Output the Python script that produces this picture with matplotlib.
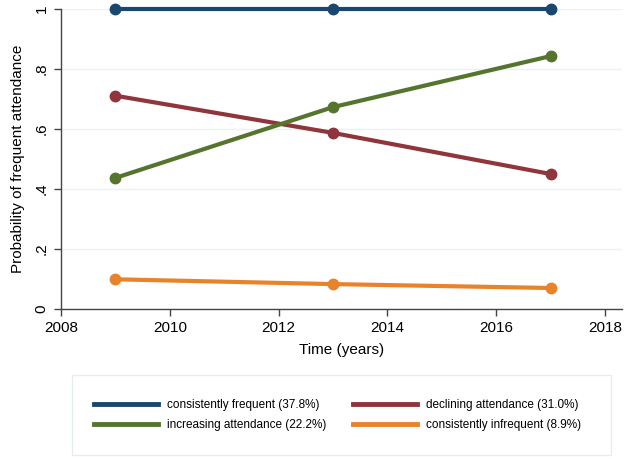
import matplotlib
matplotlib.use("Agg")
import matplotlib.pyplot as plt
from matplotlib.lines import Line2D
from matplotlib.patches import Rectangle

plt.rcParams['font.family'] = ['Liberation Sans', 'DejaVu Sans']

years = [2009, 2013, 2017]
consistently_frequent = [1.0, 1.0, 1.0]
declining = [0.711, 0.587, 0.450]
increasing = [0.437, 0.673, 0.843]
infrequent = [0.099, 0.083, 0.070]

series = [
    ("consistently frequent (37.8%)", consistently_frequent, "#1a476f"),
    ("declining attendance (31.0%)", declining, "#90353b"),
    ("increasing attendance (22.2%)", increasing, "#55752f"),
    ("consistently infrequent (8.9%)", infrequent, "#e8832a"),
]

xticks = [2008, 2010, 2012, 2014, 2016, 2018]
yticks = [0, 0.2, 0.4, 0.6, 0.8, 1.0]
ytick_labels = ["0", ".2", ".4", ".6", ".8", "1"]

W, H = 626, 459
fig = plt.figure(figsize=(W / 100, H / 100), dpi=100)
ax = fig.add_axes([61 / W, (H - 309) / H, (622 - 61) / W, 300 / H])

for label, vals, col in series:
    ax.plot(years, vals, color=col, lw=3.0, marker='o', ms=7.5, clip_on=False,
            solid_capstyle='butt', zorder=3)

ax.set_xlim(2008, 2008 + (622 - 61) / 54.4)
ax.set_ylim(0, 1)
ax.set_xticks(xticks)
ax.set_yticks(yticks)
ax.set_yticklabels(ytick_labels, rotation=90, va='center')
ax.tick_params(axis='both', labelsize=11, color='#444444', length=5, width=1)
ax.tick_params(axis='y', pad=4)
ax.grid(axis='y', color='#eaf2f3', lw=1)
ax.set_axisbelow(True)
for s in ['top', 'right']:
    ax.spines[s].set_visible(False)
for s in ['left', 'bottom']:
    ax.spines[s].set_color('#444444')
    ax.spines[s].set_linewidth(1)

ax.set_xlabel("Time (years)", fontsize=11, labelpad=6)
ax.set_ylabel("Probability of frequent attendance", fontsize=11, labelpad=7)

# legend frame
fig.patches.append(Rectangle((72 / W, 1 - 455 / H), (611 - 72) / W, (455 - 375) / H,
                             transform=fig.transFigure, facecolor='white',
                             edgecolor='#e4eef0', lw=1, zorder=0))

handles = [Line2D([0], [0], color=c, lw=3.5) for _, _, c in series]
labels = [l for l, _, _ in series]
order = [0, 2, 1, 3]
leg = fig.legend([handles[i] for i in order], [labels[i] for i in order],
                 ncol=2, loc='center', bbox_to_anchor=(337.5 / W, 1 - 415 / H),
                 fontsize=8.5, frameon=False, handlelength=5.4, handletextpad=0.75,
                 columnspacing=2.3, borderpad=0.0, labelspacing=0.7)

fig.savefig("out.png", dpi=100)
